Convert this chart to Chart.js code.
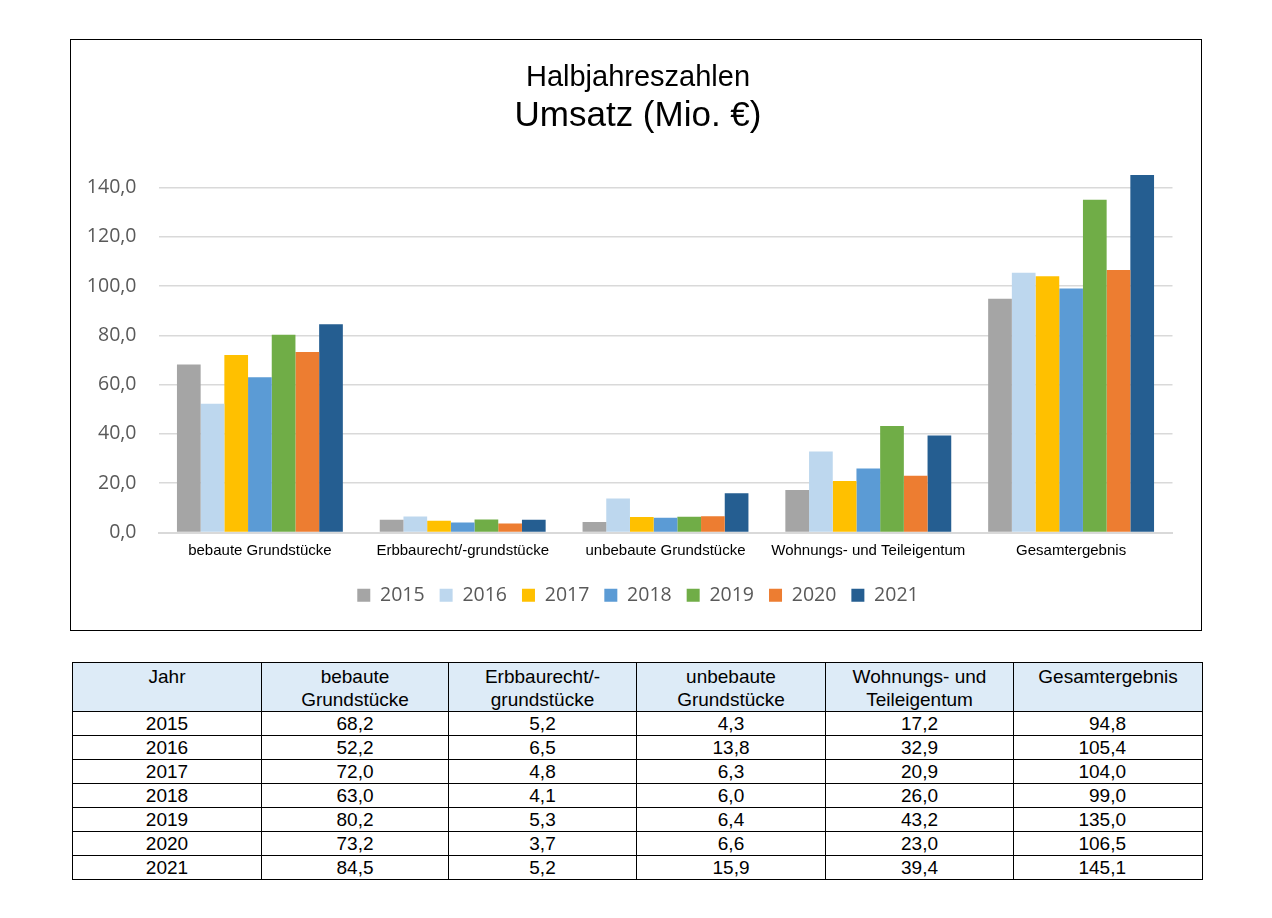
<!DOCTYPE html>
<html><head><meta charset="utf-8">
<script src="https://cdn.jsdelivr.net/npm/chart.js@4"></script>
<style>
html,body{margin:0;padding:0;background:#fff;}
body{width:1272px;height:918px;position:relative;font-family:"Liberation Sans",Arial,sans-serif;}
#box{position:absolute;left:70px;top:39px;width:1130px;height:590px;border:1.5px solid #000;box-sizing:content-box;}
#box canvas{display:block;}
table{position:absolute;left:72px;top:662px;border-collapse:collapse;table-layout:fixed;width:1131px;font-size:19px;color:#000;}
td,th{border:1px solid #000;padding:0;font-weight:normal;overflow:hidden;white-space:nowrap;}
th{background:#DDEBF7;height:46px;vertical-align:top;line-height:23px;padding-top:2px;text-align:center;}
td{height:23px;line-height:23px;text-align:center;}
td.r{text-align:right;padding-right:76px;}
</style></head>
<body>
<div id="box"><canvas id="c" width="1130" height="590"></canvas></div>
<table id="t"></table>
<script>
const categories = ["bebaute Grundstücke","Erbbaurecht/-grundstücke","unbebaute Grundstücke","Wohnungs- und Teileigentum","Gesamtergebnis"];
const tableHeaders = ["Jahr","bebaute<br>Grundstücke","Erbbaurecht/-<br>grundstücke","unbebaute<br>Grundstücke","Wohnungs- und<br>Teileigentum","Gesamtergebnis"];
const years = ["2015","2016","2017","2018","2019","2020","2021"];
const v2015 = [68.2, 5.2, 4.3, 17.2, 94.8];
const v2016 = [52.2, 6.5, 13.8, 32.9, 105.4];
const v2017 = [72.0, 4.8, 6.3, 20.9, 104.0];
const v2018 = [63.0, 4.1, 6.0, 26.0, 99.0];
const v2019 = [80.2, 5.3, 6.4, 43.2, 135.0];
const v2020 = [73.2, 3.7, 6.6, 23.0, 106.5];
const v2021 = [84.5, 5.2, 15.9, 39.4, 145.1];
const seriesValues = [v2015, v2016, v2017, v2018, v2019, v2020, v2021];
const colors = ["#A5A5A5","#BDD7EE","#FFC000","#5B9BD5","#70AD47","#ED7D31","#255E91"];

const fmt = v => v.toFixed(1).replace('.', ',');

// table
const t = document.getElementById('t');
const widths = [189,187,188,189,188,189];
let html = '<colgroup>' + widths.map(w=>`<col style="width:${w}px">`).join('') + '</colgroup>';
html += '<tr>' + tableHeaders.map(h=>`<th>${h}</th>`).join('') + '</tr>';
years.forEach((y, r) => {
  html += '<tr><td>' + y + '</td>' + seriesValues[r].map((v,i)=>`<td${i===4?' class="r"':''}>${fmt(v)}</td>`).join('') + '</tr>';
});
t.innerHTML = html;

new Chart(document.getElementById('c'), {
  type: 'bar',
  data: {
    labels: categories,
    datasets: years.map((y,i)=>({label:y, data:seriesValues[i], backgroundColor:colors[i], borderWidth:0}))
  },
  options: {
    responsive:false, animation:false,
    layout:{padding:{left:16,right:12,top:8,bottom:15}},
    categoryPercentage:0.818, barPercentage:1.0,
    plugins:{
      title:{display:true,text:'Halbjahreszahlen',color:'#000',font:{family:'"Liberation Sans", Arial',size:29,weight:'normal'},padding:{top:13,bottom:0}},
      subtitle:{display:true,text:'Umsatz (Mio. €)',color:'#000',font:{family:'"Liberation Sans", Arial',size:35,weight:'normal'},padding:{top:0,bottom:25}},
      legend:{position:'bottom',labels:{color:'#595959',font:{family:'"Open Sans", "Noto Sans", sans-serif',size:19.5},boxWidth:13,boxHeight:13,padding:15}},
      tooltip:{enabled:false}
    },
    scales:{
      x:{grid:{display:false,drawTicks:false},border:{color:'#D9D9D9',width:2},
         afterFit: sc => { sc.height += 2; sc.paddingLeft = 0; sc.paddingRight = 28.5; },
         ticks:{color:'#000',font:{family:'"Liberation Sans", Arial',size:15},padding:9}},
      y:{min:0,max:150,
         afterBuildTicks: ax => { ax.ticks = ax.ticks.filter(tk => tk.value <= 140 && tk.value % 20 === 0); },
         afterFit: sc => { sc.width = 71.5; },
         ticks:{stepSize:20,color:'#595959',font:{family:'"Open Sans", "Noto Sans", sans-serif',size:19.5},padding:22,callback:v=>fmt(v)},
         grid:{color:'#D9D9D9',lineWidth:1.5,drawTicks:false},border:{display:false}}
    }
  }
});
</script>
</body></html>
